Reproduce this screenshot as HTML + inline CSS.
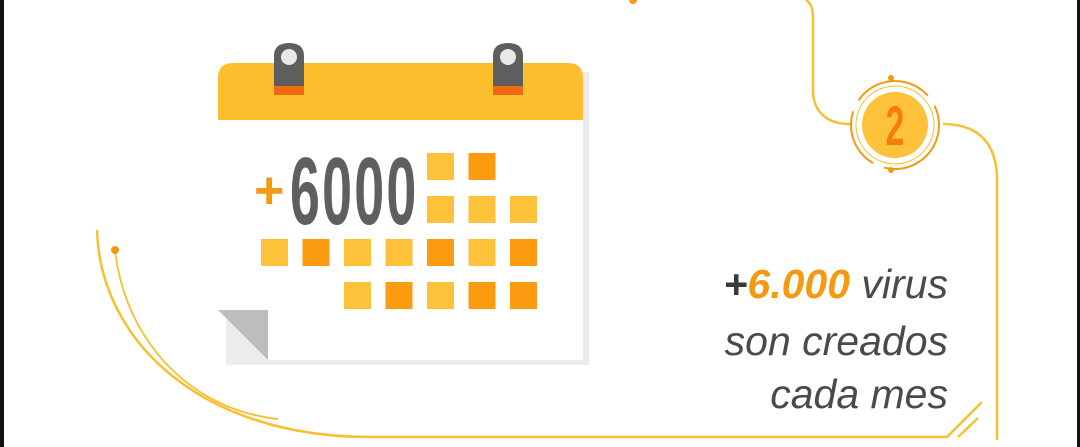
<!DOCTYPE html>
<html><head><meta charset="utf-8">
<style>
html,body{margin:0;padding:0;background:#fff;}
#wrap{position:relative;width:1080px;height:447px;overflow:hidden;background:#fff;}
svg{position:absolute;left:0;top:0;}
</style></head>
<body>
<div id="wrap">
<svg width="1080" height="447" viewBox="0 0 1080 447">
  <rect x="0" y="0" width="4" height="447" fill="#111"/>
  <rect x="1077" y="0" width="3" height="447" fill="#111"/>

  <g fill="none" stroke="#f8bf30" stroke-width="2.5">
    <path d="M97,230 C100,340 200,437 370,437 L947,437 L982,402"/>
    <path d="M115,250 C125,340 190,410 278,419" stroke-width="1.8"/>
    <path d="M806,0 C812,4 813,10 813,20 L813,90 C813,110 825,124 850,124"/>
    <path d="M943,124 C975,124 997,140 997,180 L997,440"/>
    <path d="M958,437 L978,418"/>
  </g>
  <circle cx="115" cy="250" r="4" fill="#f59a10"/>
  <circle cx="633" cy="0" r="4" fill="#f59a10"/>

  <g>
    <circle cx="895" cy="125" r="44" fill="none" stroke="#f59a10" stroke-width="2" stroke-dasharray="80 12 60 12"/>
    <circle cx="895" cy="125" r="39" fill="none" stroke="#f8bf30" stroke-width="1"/>
    <circle cx="895" cy="125" r="33" fill="#fdc23a"/>
    <circle cx="891" cy="78" r="3" fill="#f59a10"/>
    <circle cx="891" cy="170" r="3" fill="#f59a10"/>
    <text x="895" y="145" text-anchor="middle" font-family="Liberation Sans, sans-serif" font-weight="bold" font-size="56" fill="#f57e0a" transform="translate(895 0) scale(0.6 1) translate(-895 0)">2</text>
  </g>

  <g>
    <rect x="226" y="72" width="363" height="293" fill="#ececec"/>
    <path d="M218,78 Q218,63 233,63 L568,63 Q583,63 583,78 L583,360 L268,360 L218,310 Z" fill="#fff"/>
    <path d="M218,78 Q218,63 233,63 L568,63 Q583,63 583,78 L583,120 L218,120 Z" fill="#fdbf2d"/>
    <path d="M218,310 L268,310 L268,360 Z" fill="#bdbdbd"/>
    <g>
      <path d="M274,95 L274,56 Q274,43 289,43 Q304,43 304,56 L304,95 Z" fill="#5e5e5e"/>
      <rect x="274" y="86" width="30" height="9" fill="#f06a10"/>
      <circle cx="289" cy="57" r="8" fill="#e8e8e8"/>
    </g>
    <g>
      <path d="M493,95 L493,56 Q493,43 508,43 Q523,43 523,56 L523,95 Z" fill="#5e5e5e"/>
      <rect x="493" y="86" width="30" height="9" fill="#f06a10"/>
      <circle cx="508" cy="57" r="8" fill="#e8e8e8"/>
    </g>
    <text x="254" y="208" font-family="Liberation Sans, sans-serif" font-weight="bold" font-size="52" fill="#f59a10">+</text>
    <text x="290" y="224" font-family="Liberation Sans, sans-serif" font-weight="bold" font-size="96" fill="#5f5f5f" letter-spacing="4" transform="translate(290 0) scale(0.56 1) translate(-290 0)">6000</text>
    <g id="squares"></g>
  </g>

  <g font-family="Liberation Sans, sans-serif" font-style="italic" font-size="41" text-anchor="end" fill="#4a4a4a">
    <text x="948" y="298"><tspan font-weight="bold" fill="#3a3a3a">+</tspan><tspan font-weight="bold" fill="#f59a10">6.000</tspan> virus</text>
    <text x="948" y="355">son creados</text>
    <text x="948" y="408">cada mes</text>
  </g>
</svg>
</div>
<script>
const sqCols = [4,5, 4,5,6, 0,1,2,3,4,5,6, 2,3,4,5,6];
const sqRows = [0,0, 1,1,1, 2,2,2,2,2,2,2, 3,3,3,3,3];
const sqShade = [0,1, 0,0,0, 0,1,0,0,1,0,1, 0,1,0,1,1];
const g = document.getElementById('squares');
const NS = 'http://www.w3.org/2000/svg';
const colX = c => 261 + c * 41.5;
const rowY = r => 153 + r * 43;
for (let i = 0; i < sqCols.length; i++) {
  const r = document.createElementNS(NS, 'rect');
  r.setAttribute('x', colX(sqCols[i]));
  r.setAttribute('y', rowY(sqRows[i]));
  r.setAttribute('width', 27);
  r.setAttribute('height', 27);
  r.setAttribute('fill', sqShade[i] ? '#fb9c10' : '#fdc23a');
  
  
  g.appendChild(r);
}
</script>
</body></html>
